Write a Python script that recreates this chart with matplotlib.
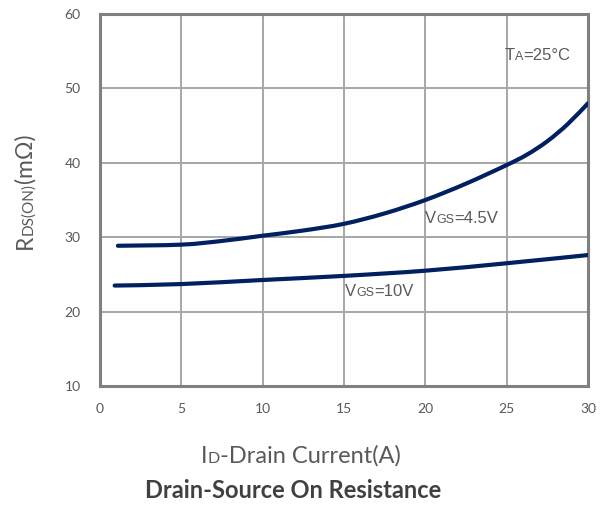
import matplotlib
matplotlib.use("Agg")
import matplotlib.pyplot as plt
from matplotlib.path import Path
from matplotlib.patches import PathPatch

# Drain current (A) and on-resistance (mOhm) for each gate drive
id_vgs45 = [1.1, 5, 7.5, 10, 12.5, 15, 17.5, 20, 22.5, 25, 26.25, 27.5, 28.75, 30]
rds_vgs45 = [28.85, 29.0, 29.5, 30.2, 30.9, 31.8, 33.2, 35.0, 37.2, 39.7, 41.1, 42.9, 45.2, 48.0]

id_vgs10 = [0.9, 5, 10, 15, 20, 25, 30]
rds_vgs10 = [23.5, 23.7, 24.25, 24.8, 25.5, 26.5, 27.6]

x_ticks = [0, 5, 10, 15, 20, 25, 30]
y_ticks = [10, 20, 30, 40, 50, 60]

W, H = 606, 507
fig = plt.figure(figsize=(W / 100, H / 100), dpi=100)
ax = fig.add_axes([100 / W, 1 - 386 / H, 488 / W, 372 / H])

curve_color = "#002060"
grid_color = "#a6a6a6"
text_gray = "#595959"
calibri_like = ["Lato", "DejaVu Sans"]
arial_like = ["Liberation Sans", "DejaVu Sans"]


def smooth_curve(ax, xs, ys, **kw):
    """Draw a Catmull-Rom style smoothed line through the points in data space."""
    n = len(xs)
    verts = [(xs[0], ys[0])]
    codes = [Path.MOVETO]
    for i in range(n - 1):
        x0, y0 = (xs[i - 1], ys[i - 1]) if i > 0 else (xs[i], ys[i])
        x1, y1 = xs[i], ys[i]
        x2, y2 = xs[i + 1], ys[i + 1]
        x3, y3 = (xs[i + 2], ys[i + 2]) if i + 2 < n else (x2, y2)
        c1 = (x1 + (x2 - x0) / 6, y1 + (y2 - y0) / 6)
        c2 = (x2 - (x3 - x1) / 6, y2 - (y3 - y1) / 6)
        verts += [c1, c2, (x2, y2)]
        codes += [Path.CURVE4] * 3
    patch = PathPatch(Path(verts, codes), fill=False, **kw)
    ax.add_patch(patch)
    return patch


line_kw = dict(edgecolor=curve_color, lw=3.0, capstyle="round", joinstyle="round", zorder=3)
smooth_curve(ax, id_vgs45, rds_vgs45, **line_kw)
smooth_curve(ax, id_vgs10, rds_vgs10, **line_kw)

ax.set_xlim(0, 30)
ax.set_ylim(10, 60)
ax.set_xticks(x_ticks)
ax.set_yticks(y_ticks)
ax.grid(True, color=grid_color, lw=1.4)
ax.set_axisbelow(True)
ax.tick_params(length=0, labelsize=10, labelcolor=text_gray)
ax.tick_params(axis="y", pad=14)
ax.tick_params(axis="x", pad=12)
for lab in ax.get_xticklabels() + ax.get_yticklabels():
    lab.set_family(calibri_like)
for sp in ax.spines.values():
    sp.set_color("#808080")
    sp.set_linewidth(2.2)

fig.canvas.draw()
renderer = fig.canvas.get_renderer()


def rich_text(x_px, y_px, parts, family, color, rotation=0, align="left"):
    """Draw a run of text pieces sharing one baseline, starting at pixel (x, y)."""
    items = []
    total = 0.0
    for s, size in parts:
        t = fig.text(0, 0, s, fontsize=size, family=family, color=color,
                     ha="left", va="baseline", rotation=rotation,
                     rotation_mode="anchor")
        bb = t.get_window_extent(renderer)
        w = bb.width if rotation == 0 else bb.height
        items.append((t, w))
        total += w
    pos = -total / 2 if align == "center" else 0.0
    for t, w in items:
        if rotation == 0:
            t.set_position(((x_px + pos) / W, 1 - y_px / H))
        else:
            t.set_position((x_px / W, 1 - (y_px - pos) / H))
        pos += w


# In-plot annotations
rich_text(505, 60, [("T", 12), ("A", 9), ("=25°C", 12)], arial_like, text_gray)
rich_text(425, 223, [("V", 12), ("GS", 9), ("=4.5V", 12)], arial_like, text_gray)
rich_text(345, 296, [("V", 12), ("GS", 9), ("=10V", 12)], arial_like, text_gray)

# Axis labels and title
rich_text(301, 463, [("I", 17), ("D", 11.5), ("-Drain Current(A)", 17)], calibri_like, text_gray, align="center")
rich_text(32, 191, [("R", 16.5), ("DS(ON)", 11), ("(mΩ)", 16.5)], calibri_like, text_gray, rotation=90, align="center")
fig.text(293 / W, 1 - 498 / H, "Drain-Source On Resistance", fontsize=17, fontweight="bold",
         family=calibri_like, color="#404040", ha="center", va="baseline")

fig.savefig("out.png", dpi=100)
